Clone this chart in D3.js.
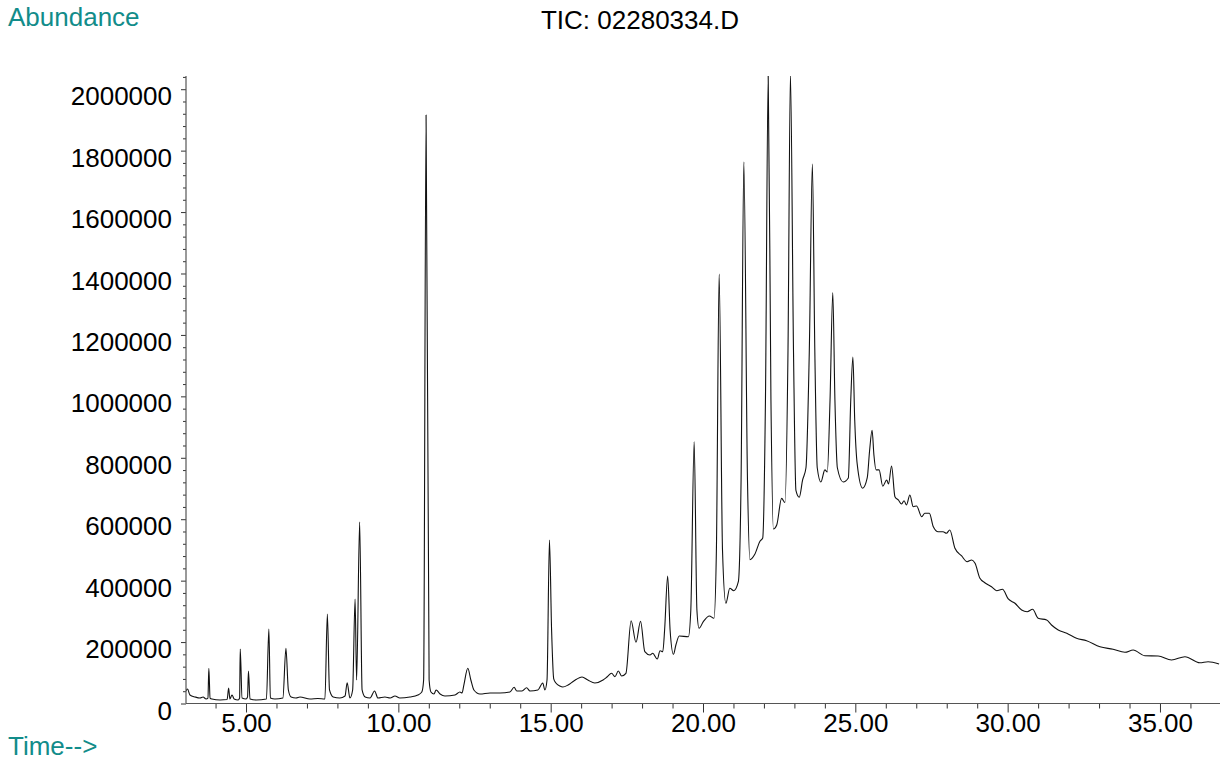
<!DOCTYPE html>
<html><head><meta charset="utf-8">
<script src="https://cdn.jsdelivr.net/npm/d3@7"></script>
<style>
body{margin:0;background:#fff;}
svg text{font-family:Arial,"Liberation Sans",Helvetica,sans-serif;}
</style>
</head><body>
<svg id="chart" width="1230" height="763"></svg>
<script>
const chartTitle = "TIC: 02280334.D";
const yAxisTitle = "Abundance";
const xAxisTitle = "Time-->";

// retention time (min)
const retentionTime = [
3.03,3.08,3.16,3.33,3.49,3.59,3.69,3.75,3.78,3.82,3.88,4.15,4.38,4.43,4.47,4.54,4.61,4.74,4.79,4.81,4.87,
5.00,5.05,5.08,5.13,5.33,5.67,5.75,5.80,5.95,6.21,6.31,6.39,6.48,6.64,6.77,7.10,7.36,7.59,7.67,7.74,7.86,
8.08,8.25,8.32,8.41,8.50,8.58,8.63,8.73,8.81,8.91,9.07,9.22,9.33,9.56,9.73,9.89,10.05,10.38,10.64,10.77,10.83,
10.91,11.01,11.07,11.17,11.24,11.37,11.53,11.86,12.02,12.09,12.15,12.28,12.38,12.48,12.68,13.01,13.34,13.66,
13.80,13.89,14.06,14.21,14.32,14.58,14.74,14.81,14.88,14.96,15.03,15.10,15.18,15.30,15.40,15.57,15.76,16.03,16.22,
16.45,16.72,16.85,17.00,17.11,17.22,17.33,17.47,17.64,17.80,17.95,18.09,18.26,18.35,18.50,18.59,18.68,18.74,
18.84,18.92,19.03,19.11,19.22,19.52,19.60,19.71,19.80,19.87,20.01,20.21,20.36,20.44,20.53,20.64,20.75,20.88,
21.01,21.16,21.25,21.34,21.46,21.54,21.70,21.87,21.96,22.05,22.14,22.23,22.31,22.42,22.58,22.69,22.79,22.87,
22.97,23.05,23.16,23.27,23.38,23.49,23.59,23.67,23.75,23.87,24.00,24.08,24.17,24.26,24.33,24.41,24.60,24.77,
24.85,24.92,24.98,25.06,25.24,25.39,25.47,25.55,25.61,25.68,25.78,25.90,26.03,26.09,26.19,26.30,26.41,26.52,
26.60,26.68,26.79,26.90,27.01,27.18,27.28,27.43,27.56,27.72,27.88,27.99,28.10,28.27,28.49,28.67,28.82,28.93,
29.09,29.25,29.47,29.64,29.83,30.02,30.24,30.46,30.64,30.82,31.00,31.28,31.44,31.66,31.94,32.26,32.59,33.03,
33.46,33.85,34.12,34.50,34.94,35.38,35.82,36.31,36.58,36.94
];

// total ion current abundance
const abundance = [
40700,47200,27700,21200,17900,21200,14700,17900,114600,17900,14700,11400,13000,50500,14700,27700,14700,11400,17900,177500,17900,
14700,21200,105800,14700,11400,14700,242600,17900,14700,17900,179700,44000,21200,17900,21200,14700,16300,14700,291400,44000,21200,
17900,24400,67700,17900,44000,340300,76500,591000,44000,21200,17900,40700,17900,21200,17900,24400,17900,21200,27700,37400,76500,
1916200,76500,37400,30900,44000,30900,24400,27700,37400,34200,60200,114600,76500,44000,30900,34200,34200,37400,
52700,40700,40700,51400,40700,44000,66700,44000,76500,532400,240000,80000,66000,57000,53700,60200,73300,86300,76500,
66700,76500,86300,98300,87300,105800,89500,98300,269600,199300,267600,168700,157900,163500,144900,171900,168700,239300,
415100,239300,160200,190500,219800,217500,304400,852400,304400,244900,266300,284900,277400,499800,1398500,499800,326300,375100,
367300,396600,727700,1763200,727700,468500,485800,528500,538900,988200,2045000,988200,568200,581200,667800,654500,1151000,2050000,
1151000,694200,671700,727700,767500,1151000,1756600,1151000,767500,721200,760600,753800,988200,1338200,988200,767500,721200,734200,
988200,1128200,923100,780800,701000,734200,825400,889500,809100,760600,760600,707500,727700,714700,773300,673300,662600,649600,
660300,646300,678900,640800,643100,608200,619300,619300,575700,559400,559400,554200,564900,505300,480300,461700,467200,456500,
407700,393300,380300,367300,371800,340300,326300,304400,298900,306700,277400,271900,255600,239300,228600,212300,204500,184900,
176500,166700,174200,155600,154700,141600,152400,132800,136100,128600
];

const xMajorTicks = [5, 10, 15, 20, 25, 30, 35];
const xTickLabels = ["5.00","10.00","15.00","20.00","25.00","30.00","35.00"];
const xMinorTicks = [4,6,7,8,9,11,12,13,14,16,17,18,19,21,22,23,24,26,27,28,29,31,32,33,34,36];
const yMajorTicks = [0,200000,400000,600000,800000,1000000,1200000,1400000,1600000,1800000,2000000];
const yTickLabels = ["0","200000","400000","600000","800000","1000000","1200000","1400000","1600000","1800000","2000000"];
const yMinorStep = 40000;
const xDomain = [3.03, 36.97];
const yDomain = [0, 2043000];

const svg = d3.select("#chart");
const x = d3.scaleLinear().domain(xDomain).range([186, 1220]);
const y = d3.scaleLinear().domain(yDomain).range([703.5, 76]);
const teal = "#128c8a";
const fontSize = 26;

svg.append("defs").append("clipPath").attr("id","plot")
  .append("rect").attr("x",186).attr("y",76).attr("width",1034).attr("height",628);

// trace
const pts = retentionTime.map((t,i)=>[t, abundance[i]]);
svg.append("path")
  .datum(pts)
  .attr("clip-path","url(#plot)")
  .attr("fill","none")
  .attr("stroke","#111")
  .attr("stroke-width",1.1)
  .attr("stroke-linejoin","round")
  .attr("d", d3.line().curve(d3.curveMonotoneX).x(d=>x(d[0])).y(d=>y(d[1])));

// y axis minor ticks
const yMinor = d3.range(0, yDomain[1]+1, yMinorStep).filter(v=>v%200000!==0);
svg.append("g").attr("transform","translate(186,0)")
  .call(d3.axisLeft(y).tickValues(yMinor).tickSize(3).tickFormat(""))
  .call(g=>g.select(".domain").remove())
  .call(g=>g.selectAll("line").attr("stroke","#333"));
// y axis major
const gy = svg.append("g").attr("transform","translate(186,0)")
  .call(d3.axisLeft(y).tickValues(yMajorTicks).tickSize(5).tickPadding(9)
        .tickFormat((d,i)=>yTickLabels[i]));
gy.select(".domain").remove();
gy.selectAll("line").attr("stroke","#333");
gy.selectAll("text").attr("font-size",fontSize).attr("fill","#000")
  .attr("font-family","Arial, 'Liberation Sans', sans-serif").attr("dy","0.6em");
svg.append("line").attr("x1",186).attr("x2",186).attr("y1",y(yDomain[1])).attr("y2",703.5)
  .attr("stroke","#555").attr("stroke-width",1.2);

// x axis minor
svg.append("g").attr("transform","translate(0,703.5)")
  .call(d3.axisBottom(x).tickValues(xMinorTicks).tickSize(5).tickFormat(""))
  .call(g=>g.select(".domain").remove())
  .call(g=>g.selectAll("line").attr("stroke","#333"));
const gx = svg.append("g").attr("transform","translate(0,703.5)")
  .call(d3.axisBottom(x).tickValues(xMajorTicks).tickSize(9).tickPadding(1)
        .tickFormat((d,i)=>xTickLabels[i]));
gx.select(".domain").remove();
gx.selectAll("line").attr("stroke","#333");
gx.selectAll("text").attr("font-size",fontSize).attr("fill","#000")
  .attr("font-family","Arial, 'Liberation Sans', sans-serif");
svg.append("line").attr("x1",186).attr("x2",1220).attr("y1",703.5).attr("y2",703.5)
  .attr("stroke","#555").attr("stroke-width",1.2);

// titles
svg.append("text").attr("x",640).attr("y",29).attr("text-anchor","middle")
  .attr("font-size",fontSize).attr("fill","#000").text(chartTitle);
svg.append("text").attr("x",8).attr("y",26)
  .attr("font-size",fontSize).attr("fill",teal).text(yAxisTitle);
svg.append("text").attr("x",8).attr("y",755)
  .attr("font-size",fontSize).attr("fill",teal).text(xAxisTitle);
</script>
</body></html>
